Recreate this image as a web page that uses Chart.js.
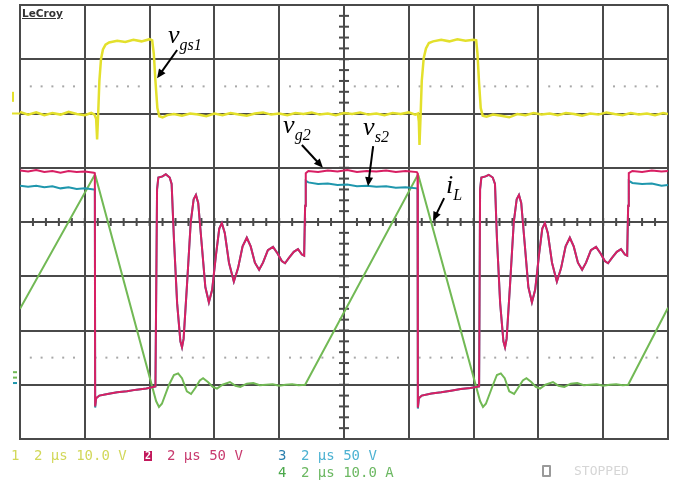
<!DOCTYPE html>
<html>
<head>
<meta charset="utf-8">
<title>Scope capture</title>
<script src="https://cdn.jsdelivr.net/npm/chart.js@4/dist/chart.umd.min.js"></script>
<style>
    body { margin: 0; background: #fff; }
    #wrap { position: relative; width: 676px; height: 483px; overflow: hidden; }
    #scope { position: absolute; left: 0; top: 0; }
    .txt { position: absolute; font: 14px "DejaVu Sans Mono", monospace; white-space: pre; line-height: 16px; }
    .logo { position: absolute; left: 22px; top: 7px; font: bold 10.5px "DejaVu Sans", sans-serif; color: #333; text-decoration: underline; }
    .box2 { position: absolute; left: 144px; top: 451px; width: 8px; height: 10px; background: #c2185b; color: #fff;
            font: bold 10px "DejaVu Sans Mono", monospace; line-height: 10px; text-align: center; }
    .stopbox { position: absolute; left: 542px; top: 465px; width: 5px; height: 8px; border: 2px solid #9a9a9a; border-radius: 1px; }
</style>
</head>
<body>
<div id="wrap">
    <canvas id="scope" width="676" height="483"></canvas>
    <div class="logo">LeCroy</div>
    <div class="txt" style="left:11px;top:447px;color:#d2d85a">1</div>
    <div class="txt" style="left:34px;top:447px;color:#d2d85a">2 µs 10.0 V</div>
    <div class="box2">2</div>
    <div class="txt" style="left:167px;top:447px;color:#c83a6e">2 µs 50 V</div>
    <div class="txt" style="left:278px;top:447px;color:#2b7fae">3</div>
    <div class="txt" style="left:301px;top:447px;color:#4db2d2">2 µs 50 V</div>
    <div class="txt" style="left:278px;top:464px;color:#4aa84a">4</div>
    <div class="txt" style="left:301px;top:464px;color:#6cb862">2 µs 10.0 A</div>
    <div class="stopbox"></div>
    <div class="txt" style="left:574px;top:463px;color:#d6d6d6;font-size:13px">STOPPED</div>
</div>

<script>
// Time in µs (2 µs/div), amplitude in screen divisions (8 div tall)

// Channel 1 - v_gs1 (yellow)
const ch1Time = [0, 0.25, 0.5, 0.75, 1.0, 1.25, 1.5, 1.75, 2.0, 2.2, 2.3,
    2.35, 2.38, 2.41, 2.45, 2.5, 2.56, 2.64, 2.75,
    3.0, 3.25, 3.5, 3.75, 4.0, 4.08,
    4.13, 4.18, 4.24, 4.3, 4.4, 4.55,
    4.75, 5.0, 5.25, 5.5, 5.75, 6.0, 6.25, 6.5, 6.75, 7.0, 7.25, 7.5, 7.75, 8.0, 8.25, 8.5, 8.75,
    9.0, 9.25, 9.5, 9.75, 10.0, 10.25, 10.5, 10.75, 11.0, 11.25, 11.5, 11.75, 12.0, 12.2, 12.28,
    12.31, 12.33, 12.36, 12.4, 12.46, 12.53, 12.62, 12.75,
    13.0, 13.25, 13.5, 13.75, 14.0, 14.08,
    14.12, 14.17, 14.22, 14.28, 14.4, 14.6,
    14.85, 15.1, 15.35, 15.6, 15.85, 16.1, 16.35, 16.6, 16.85, 17.1, 17.35, 17.6, 17.85,
    18.1, 18.35, 18.6, 18.85, 19.1, 19.35, 19.6, 19.85, 20.0];
const ch1Level = [2.03, 1.98, 2.02, 1.97, 2.01, 1.98, 2.03, 1.99, 1.97, 2.01, 1.98,
    1.9, 1.52, 1.95, 2.6, 3.0, 3.18, 3.27, 3.31,
    3.34, 3.32, 3.36, 3.33, 3.37, 3.35,
    3.1, 2.6, 2.1, 1.95, 1.93, 1.97,
    1.99, 1.96, 2.0, 1.98, 1.95, 2.0, 1.97, 2.01, 1.98, 1.96, 2.0, 2.02, 1.98, 2.0, 1.97, 2.01, 1.99,
    2.02, 1.98, 2.0, 1.97, 2.01, 1.99, 2.02, 1.98, 2.0, 1.97, 2.01, 1.99, 2.02, 1.98, 2.0,
    1.85, 1.42, 1.9, 2.6, 3.02, 3.2, 3.3, 3.33,
    3.36, 3.33, 3.37, 3.34, 3.36, 3.35,
    3.1, 2.55, 2.1, 1.96, 1.94, 1.98,
    1.96, 1.93, 1.99, 1.97, 2.01, 1.98, 2.0, 1.97, 2.01, 1.99, 1.96, 2.0, 1.98,
    2.02, 1.99, 1.97, 2.01, 1.98, 2.0, 1.97, 2.01, 1.99];

// Channel 2 - v_g2 (red)
const ch2Time = [0, 0.25, 0.5, 0.75, 1.0, 1.25, 1.5, 1.75, 2.0, 2.28,
    2.31, 2.32, 2.35, 2.45, 2.7, 3.0, 3.3, 3.6, 3.9, 4.18,
    4.23, 4.27, 4.4, 4.5, 4.62, 4.68,
    4.75, 4.85, 4.95, 5.0, 5.05, 5.15, 5.27, 5.36, 5.43, 5.5, 5.6, 5.72, 5.83, 5.93, 6.05, 6.15, 6.23,
    6.32, 6.45, 6.6, 6.73, 6.87, 7.0, 7.12, 7.25, 7.38, 7.5, 7.65, 7.81, 7.95, 8.08, 8.18, 8.3, 8.45,
    8.58, 8.7, 8.77,
    8.8, 8.82, 8.9, 9.2, 9.5, 9.8, 10.1, 10.4, 10.7, 11.0, 11.3, 11.6, 11.9, 12.25,
    12.27, 12.28, 12.31, 12.4, 12.7, 13.0, 13.3, 13.6, 13.9, 14.17,
    14.2, 14.24, 14.37, 14.47, 14.59, 14.66,
    14.72, 14.82, 14.92, 14.97, 15.02, 15.12, 15.24, 15.33, 15.4, 15.47, 15.57, 15.69, 15.8, 15.9,
    16.02, 16.12, 16.2, 16.29, 16.42, 16.57, 16.7, 16.84, 16.97, 17.09, 17.22, 17.35, 17.47, 17.62,
    17.78, 17.92, 18.05, 18.15, 18.27, 18.42, 18.55, 18.67, 18.74,
    18.77, 18.79, 18.9, 19.2, 19.5, 19.8, 20.0];
const ch2Level = [0.95, 0.93, 0.96, 0.92, 0.94, 0.91, 0.94, 0.92, 0.93, 0.91,
    0.9, -3.4, -3.25, -3.2, -3.17, -3.14, -3.12, -3.09, -3.07, -3.03,
    0.6, 0.82, 0.84, 0.88, 0.82, 0.7,
    -0.3, -1.5, -2.2, -2.31, -2.15, -1.2, 0.0, 0.42, 0.5, 0.35, -0.35, -1.2, -1.48, -1.25, -0.6, -0.12, -0.02,
    -0.2, -0.75, -1.1, -0.85, -0.45, -0.29, -0.45, -0.75, -0.88, -0.75, -0.52, -0.46, -0.58, -0.72, -0.76, -0.66, -0.55,
    -0.5, -0.6, -0.62,
    0.3, 0.9, 0.94, 0.92, 0.95, 0.93, 0.96, 0.92, 0.94, 0.93, 0.95, 0.92, 0.94, 0.92,
    0.9, -3.42, -3.25, -3.2, -3.16, -3.14, -3.11, -3.08, -3.06, -3.03,
    0.6, 0.82, 0.84, 0.87, 0.82, 0.7,
    -0.3, -1.5, -2.2, -2.31, -2.15, -1.2, 0.0, 0.42, 0.5, 0.35, -0.35, -1.2, -1.48, -1.25,
    -0.6, -0.12, -0.02, -0.2, -0.75, -1.1, -0.85, -0.45, -0.29, -0.45, -0.75, -0.88, -0.75, -0.52,
    -0.46, -0.58, -0.72, -0.76, -0.66, -0.55, -0.5, -0.6, -0.62,
    0.3, 0.9, 0.94, 0.92, 0.95, 0.93, 0.94];

// Channel 3 - v_s2 (teal), follows ch2 except on the flat tops
const ch3Time = [0, 0.25, 0.5, 0.75, 1.0, 1.25, 1.5, 1.75, 2.0, 2.28,
    2.31, 2.32, 2.35, 2.45, 2.7, 3.0, 3.3, 3.6, 3.9, 4.18,
    4.23, 4.27, 4.4, 4.5, 4.62, 4.68,
    4.75, 4.85, 4.95, 5.0, 5.05, 5.15, 5.27, 5.36, 5.43, 5.5, 5.6, 5.72, 5.83, 5.93, 6.05, 6.15, 6.23,
    6.32, 6.45, 6.6, 6.73, 6.87, 7.0, 7.12, 7.25, 7.38, 7.5, 7.65, 7.81, 7.95, 8.08, 8.18, 8.3, 8.45,
    8.58, 8.7, 8.77,
    8.8, 8.82, 8.9, 9.2, 9.5, 9.8, 10.1, 10.4, 10.7, 11.0, 11.3, 11.6, 11.9, 12.25,
    12.27, 12.28, 12.31, 12.4, 12.7, 13.0, 13.3, 13.6, 13.9, 14.17,
    14.2, 14.24, 14.37, 14.47, 14.59, 14.66,
    14.72, 14.82, 14.92, 14.97, 15.02, 15.12, 15.24, 15.33, 15.4, 15.47, 15.57, 15.69, 15.8, 15.9,
    16.02, 16.12, 16.2, 16.29, 16.42, 16.57, 16.7, 16.84, 16.97, 17.09, 17.22, 17.35, 17.47, 17.62,
    17.78, 17.92, 18.05, 18.15, 18.27, 18.42, 18.55, 18.67, 18.74,
    18.77, 18.79, 18.9, 19.2, 19.5, 19.8, 20.0];
const ch3Level = [0.67, 0.65, 0.67, 0.64, 0.66, 0.62, 0.64, 0.61, 0.62, 0.6,
    0.6, -3.42, -3.25, -3.2, -3.17, -3.14, -3.12, -3.09, -3.07, -3.03,
    0.6, 0.82, 0.84, 0.88, 0.82, 0.7,
    -0.3, -1.5, -2.2, -2.31, -2.15, -1.2, 0.0, 0.42, 0.5, 0.35, -0.35, -1.2, -1.48, -1.25, -0.6, -0.12, -0.02,
    -0.2, -0.75, -1.1, -0.85, -0.45, -0.29, -0.45, -0.75, -0.88, -0.75, -0.52, -0.46, -0.58, -0.72, -0.76, -0.66, -0.55,
    -0.5, -0.6, -0.62,
    0.3, 0.76, 0.73, 0.7, 0.71, 0.68, 0.69, 0.66, 0.67, 0.65, 0.66, 0.63, 0.64, 0.62,
    0.6, -3.44, -3.25, -3.2, -3.16, -3.14, -3.11, -3.08, -3.06, -3.03,
    0.6, 0.82, 0.84, 0.87, 0.82, 0.7,
    -0.3, -1.5, -2.2, -2.31, -2.15, -1.2, 0.0, 0.42, 0.5, 0.35, -0.35, -1.2, -1.48, -1.25,
    -0.6, -0.12, -0.02, -0.2, -0.75, -1.1, -0.85, -0.45, -0.29, -0.45, -0.75, -0.88, -0.75, -0.52,
    -0.46, -0.58, -0.72, -0.76, -0.66, -0.55, -0.5, -0.6, -0.62,
    0.3, 0.76, 0.72, 0.7, 0.71, 0.67, 0.68];

// Channel 4 - i_L (green)
const ch4Time = [0, 2.31, 2.33, 4.2, 4.29, 4.38, 4.6, 4.75, 4.88, 5.0, 5.15, 5.28, 5.42, 5.55, 5.65,
    5.8, 5.95, 6.08, 6.25, 6.48, 6.65, 6.8, 7.0, 7.2, 7.4, 7.6, 7.8, 8.0, 8.2, 8.4, 8.6, 8.8,
    12.28, 12.3, 14.2, 14.29, 14.38, 14.6, 14.72, 14.84, 14.96, 15.1, 15.25, 15.38, 15.52, 15.63,
    15.78, 15.92, 16.05, 16.22, 16.45, 16.62, 16.8, 17.0, 17.2, 17.4, 17.6, 17.8, 18.0, 18.2, 18.4,
    18.6, 18.77, 20.0];
const ch4Level = [-1.6, 0.87, 0.85, -3.3, -3.41, -3.35, -3.0, -2.82, -2.79, -2.88, -3.12, -3.17, -3.05, -2.92, -2.88,
    -2.95, -3.04, -3.07, -3.0, -2.95, -3.02, -3.04, -2.98, -2.97, -3.01, -3.0, -2.99, -3.02, -3.0, -2.99, -3.01, -3.0,
    0.87, 0.85, -3.3, -3.41, -3.35, -3.0, -2.82, -2.79, -2.88, -3.12, -3.17, -3.05, -2.92, -2.88,
    -2.95, -3.04, -3.07, -3.0, -2.95, -3.02, -3.04, -2.98, -2.97, -3.01, -3.0, -2.99, -3.02, -3.0, -2.99,
    -3.01, -3.0, -1.58];

const traceColors = ['#e3e02c', '#d81f63', '#1f97ad', '#72b955'];

// Hand-drawn labels on the capture, placed in data units
const notes = [
    { main: 'v', sub: 'gs1', x: 4.57, y: 3.30, from: [4.85, 3.17], to: [4.23, 2.65] },
    { main: 'v', sub: 'g2',  x: 8.12, y: 1.64, from: [8.70, 1.42], to: [9.35, 1.00] },
    { main: 'v', sub: 's2',  x: 10.59, y: 1.60, from: [10.90, 1.40], to: [10.74, 0.66] },
    { main: 'i', sub: 'L',   x: 13.15, y: 0.53, from: [13.09, 0.44], to: [12.75, 0.02] }
];

const toPoints = (ts, vs) => ts.map((t, i) => ({ x: t, y: vs[i] }));

// Graticule extras: minor ticks on the centre cross, dotted rows at +/-2.5 div
const graticule = {
    id: 'graticule',
    beforeDatasetsDraw(chart) {
        const { ctx, scales: { x, y } } = chart;
        ctx.save();
        ctx.fillStyle = '#4a4a4a';
        const cx = x.getPixelForValue(10);
        const cy = y.getPixelForValue(0);
        for (let t = 0; t <= 20.001; t += 0.4) {
            const px = x.getPixelForValue(t);
            ctx.fillRect(px - 1, cy - 4, 2, 8);
        }
        for (let v = -4; v <= 4.001; v += 0.2) {
            const py = y.getPixelForValue(v);
            ctx.fillRect(cx - 5, py - 1, 10, 2);
        }
        ctx.fillStyle = '#a8a8a8';
        [2.5, -2.5].forEach(v => {
            const py = y.getPixelForValue(v);
            for (let d = 0; d < 10; d++) {
                for (let k = 1; k < 6; k++) {
                    const px = x.getPixelForValue(d * 2 + k * 2 / 6);
                    ctx.fillRect(px - 1, py - 1, 2, 2);
                }
            }
        });

        // channel ground markers left of the screen
        const left = chart.chartArea.left;
        ctx.fillStyle = traceColors[0];
        ctx.fillRect(left - 8, y.getPixelForValue(2.4), 2, 10);
        ctx.fillRect(left - 8, y.getPixelForValue(2.0) - 1, 8, 2);
        ctx.fillStyle = traceColors[3];
        ctx.fillRect(left - 7, y.getPixelForValue(-2.75), 4, 2);
        ctx.fillRect(left - 7, y.getPixelForValue(-2.85), 4, 2);
        ctx.fillStyle = traceColors[2];
        ctx.fillRect(left - 7, y.getPixelForValue(-2.95), 4, 2);
        ctx.restore();
    },
    afterDatasetsDraw(chart) {
        const { ctx, scales: { x, y } } = chart;
        ctx.save();
        ctx.fillStyle = '#000';
        ctx.strokeStyle = '#000';
        ctx.lineWidth = 2;
        notes.forEach(n => {
            const px = x.getPixelForValue(n.x);
            const py = y.getPixelForValue(n.y);
            ctx.font = 'italic 26px "Liberation Serif", serif';
            ctx.fillText(n.main, px, py);
            const w = ctx.measureText(n.main).width;
            ctx.font = 'italic 16px "Liberation Serif", serif';
            ctx.fillText(n.sub, px + w, py + 7);

            // arrow
            const x0 = x.getPixelForValue(n.from[0]), y0 = y.getPixelForValue(n.from[1]);
            const x1 = x.getPixelForValue(n.to[0]), y1 = y.getPixelForValue(n.to[1]);
            const ang = Math.atan2(y1 - y0, x1 - x0);
            const head = 9;
            ctx.beginPath();
            ctx.moveTo(x0, y0);
            ctx.lineTo(x1 - Math.cos(ang) * head * 0.8, y1 - Math.sin(ang) * head * 0.8);
            ctx.stroke();
            ctx.beginPath();
            ctx.moveTo(x1, y1);
            ctx.lineTo(x1 - head * Math.cos(ang) + 4 * Math.sin(ang), y1 - head * Math.sin(ang) - 4 * Math.cos(ang));
            ctx.lineTo(x1 - head * Math.cos(ang) - 4 * Math.sin(ang), y1 - head * Math.sin(ang) + 4 * Math.cos(ang));
            ctx.closePath();
            ctx.fill();
        });
        ctx.restore();
    }
};

const gridStyle = { color: '#4a4a4a', lineWidth: 2, drawTicks: false };
const borderStyle = { color: '#4a4a4a', width: 2 };

new Chart(document.getElementById('scope'), {
    type: 'line',
    data: {
        datasets: [
            { label: 'ch1', data: toPoints(ch1Time, ch1Level), borderColor: traceColors[0], borderWidth: 2.5, order: 1 },
            { label: 'ch2', data: toPoints(ch2Time, ch2Level), borderColor: traceColors[1], borderWidth: 2, order: 2 },
            { label: 'ch3', data: toPoints(ch3Time, ch3Level), borderColor: traceColors[2], borderWidth: 2, order: 3 },
            { label: 'ch4', data: toPoints(ch4Time, ch4Level), borderColor: traceColors[3], borderWidth: 2, order: 4 }
        ]
    },
    options: {
        responsive: false,
        animation: false,
        layout: { padding: { left: 20, right: 8, top: 5, bottom: 44 } },
        elements: { point: { radius: 0 }, line: { tension: 0 } },
        plugins: { legend: { display: false }, tooltip: { enabled: false } },
        scales: {
            x: { type: 'linear', min: 0, max: 20, ticks: { stepSize: 2, display: false }, grid: gridStyle, border: borderStyle },
            y: { type: 'linear', min: -4, max: 4, ticks: { stepSize: 1, display: false }, grid: gridStyle, border: borderStyle }
        }
    },
    plugins: [graticule]
});
</script>
</body>
</html>
